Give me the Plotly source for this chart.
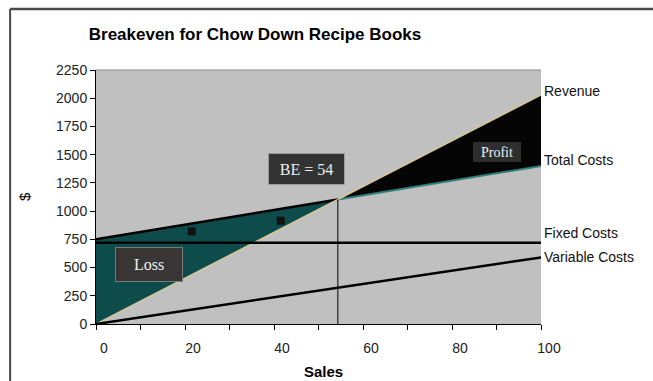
import plotly.graph_objects as go

# ---- data ----
sales = [0, 100]
revenue = [0, 2030]
total_costs = [750, 1400]
variable_costs = [0, 590]
fixed_costs = 720
breakeven_label = 54
blob_sales = [21.5, 41.5]
blob_values = [820, 915]
x_tickvals = list(range(0, 101, 10))
x_ticktext = [str(v) if v % 20 == 0 else "" for v in x_tickvals]
y_tickvals = list(range(0, 2251, 250))

FONT = "Arial, Liberation Sans, sans-serif"
SERIF = "Times New Roman, Liberation Serif, serif"

rev_slope = (revenue[1] - revenue[0]) / (sales[1] - sales[0])
tc_slope = (total_costs[1] - total_costs[0]) / (sales[1] - sales[0])
be_x = (total_costs[0] - revenue[0]) / (rev_slope - tc_slope)
be_y = revenue[0] + rev_slope * be_x

fig = go.Figure()

# loss region
fig.add_trace(go.Scatter(
    x=[sales[0], be_x, sales[0], sales[0]],
    y=[total_costs[0], be_y, revenue[0], total_costs[0]],
    fill="toself", fillcolor="#0e4b4b", mode="lines",
    line=dict(width=0), hoverinfo="skip", showlegend=False))
# profit region
fig.add_trace(go.Scatter(
    x=[be_x, sales[1], sales[1], be_x],
    y=[be_y, revenue[1], total_costs[1], be_y],
    fill="toself", fillcolor="#050505", mode="lines",
    line=dict(width=0), hoverinfo="skip", showlegend=False))
# small dark blobs
fig.add_trace(go.Scatter(
    x=blob_sales, y=blob_values, mode="markers",
    marker=dict(symbol="square", size=8, color="#111111"),
    hoverinfo="skip", showlegend=False))
# total costs
fig.add_trace(go.Scatter(
    x=[sales[0], be_x], y=[total_costs[0], be_y], mode="lines",
    line=dict(color="#000000", width=2.5), showlegend=False))
fig.add_trace(go.Scatter(
    x=[be_x, sales[1]], y=[be_y, total_costs[1]], mode="lines",
    line=dict(color="#2f7c78", width=2), showlegend=False))
# revenue
fig.add_trace(go.Scatter(
    x=sales, y=revenue, mode="lines",
    line=dict(color="#d6c79a", width=1.5), showlegend=False))
# variable costs
fig.add_trace(go.Scatter(
    x=sales, y=variable_costs, mode="lines",
    line=dict(color="#000000", width=2.5), showlegend=False))

shapes = [
    # fixed costs line (extends slightly left of the axis)
    dict(type="line", xref="x", yref="y", x0=-3.3, x1=sales[1],
         y0=fixed_costs, y1=fixed_costs, line=dict(color="#000000", width=2.5)),
    # breakeven vertical line
    dict(type="line", xref="x", yref="y", x0=be_x, x1=be_x,
         y0=0, y1=be_y, line=dict(color="#000000", width=1)),
    # plot area frame top
    dict(type="line", xref="paper", yref="paper", x0=0, x1=1, y0=1, y1=1,
         line=dict(color="#8a8a8a", width=1)),
    # outer chart border (top and left)
    dict(type="line", xref="paper", yref="paper", x0=-0.193, x1=1.26,
         y0=1.240, y1=1.240, line=dict(color="#4a4a4a", width=2.5)),
    dict(type="line", xref="paper", yref="paper", x0=-0.193, x1=-0.193,
         y0=1.240, y1=-0.25, line=dict(color="#4a4a4a", width=2)),
]

ann = []
lab_font = dict(family=FONT, size=14, color="#111111")
for text, yv, ys in [("Revenue", revenue[1], 4), ("Total Costs", total_costs[1], 6),
                     ("Fixed Costs", fixed_costs, 10), ("Variable Costs", variable_costs[1], 0)]:
    ann.append(dict(text=text, xref="paper", yref="y", x=1, y=yv, xshift=1, yshift=ys,
                    xanchor="left", yanchor="middle", showarrow=False, font=lab_font))

box_font = dict(family=SERIF, size=16, color="#f0f0f0")
ann.append(dict(text=f"BE = {breakeven_label}", xref="paper", yref="paper",
                x=(306 - 96) / 445, y=(324 - 169) / 254, showarrow=False,
                xanchor="center", yanchor="middle",
                bgcolor="#333333", bordercolor="#9a9a9a", borderwidth=1, borderpad=0,
                width=75, height=30, font=box_font))
ann.append(dict(text="Loss", xref="paper", yref="paper",
                x=(149 - 96) / 445, y=(324 - 264.5) / 254, showarrow=False,
                xanchor="center", yanchor="middle",
                bgcolor="#3a3535", bordercolor="#7a7a7a", borderwidth=1, borderpad=0,
                width=66, height=33, font=box_font))
ann.append(dict(text="Profit", xref="paper", yref="paper",
                x=(497 - 96) / 445, y=(324 - 152) / 254, showarrow=False,
                xanchor="center", yanchor="middle",
                bgcolor="#2e2e2e", borderwidth=0, borderpad=0,
                width=48, height=20, font=dict(family=SERIF, size=14, color="#f0f0f0")))
ann.append(dict(text="<b>Sales</b>", xref="paper", yref="paper",
                x=(323 - 96) / 445, y=(324 - 371) / 254, showarrow=False,
                xanchor="center", yanchor="middle",
                font=dict(family=FONT, size=15, color="#000000")))
ann.append(dict(text="$", xref="paper", yref="paper",
                x=(24 - 96) / 445, y=(324 - 197) / 254, showarrow=False,
                textangle=-90, xanchor="center", yanchor="middle",
                font=dict(family=FONT, size=15, color="#000000")))

fig.update_layout(
    width=653, height=381,
    margin=dict(l=96, r=112, t=70, b=57),
    paper_bgcolor="#ffffff", plot_bgcolor="#c0c0c0",
    title=dict(text="<b>Breakeven for Chow Down Recipe Books</b>",
               x=255 / 653, y=1 - 34 / 381, xanchor="center", yanchor="middle",
               font=dict(family=FONT, size=17, color="#000000")),
    shapes=shapes, annotations=ann, showlegend=False,
    xaxis=dict(range=[0, 100], tickvals=x_tickvals, ticktext=x_ticktext,
               showgrid=False, zeroline=False, showline=True, linecolor="#000000",
               linewidth=1, ticks="outside", ticklen=5, tickcolor="#000000",
               ticklabelshift=8, ticklabelstandoff=6,
               tickfont=dict(family=FONT, size=14, color="#222222")),
    yaxis=dict(range=[0, 2250], tickvals=y_tickvals,
               showgrid=False, zeroline=False, showline=True, linecolor="#000000",
               linewidth=1, ticks="outside", ticklen=5, tickcolor="#000000",
               tickfont=dict(family=FONT, size=14, color="#222222")),
)

fig.write_html("out.html")
